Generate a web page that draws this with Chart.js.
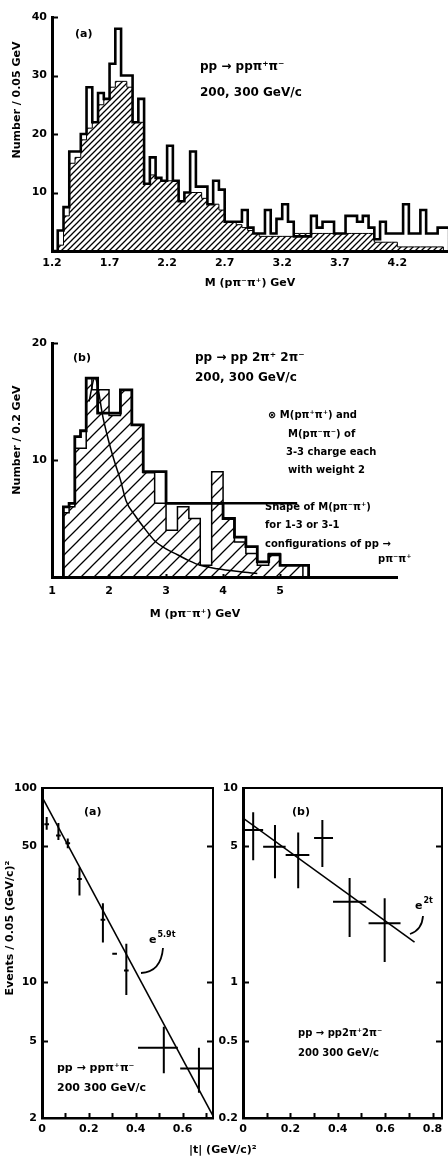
<!DOCTYPE html>
<html>
<head>
<meta charset="utf-8">
<script src="https://cdn.jsdelivr.net/npm/chart.js@4.4.0/dist/chart.umd.min.js"></script>
<style>
  body { margin: 0; background: #fff; }
  #page { position: relative; width: 448px; height: 1160px; overflow: hidden; background: #fff; }
  #page canvas { position: absolute; }
  .lbl { position: absolute; font: bold 11px 'DejaVu Sans', sans-serif; color: #000; white-space: nowrap; }
</style>
</head>
<body>
<div id="page">
  <canvas id="massA" width="448" height="300" style="left:0px;top:0px"></canvas>
  <canvas id="massB" width="448" height="310" style="left:0px;top:320px"></canvas>
  <canvas id="tLeft" width="224" height="420" style="left:0px;top:740px"></canvas>
  <canvas id="tRight" width="242" height="420" style="left:206px;top:740px"></canvas>
  <div class="lbl" style="left:189px;top:1143px">|t| (GeV/c)²</div>
</div>
<script>
// (a) pp -> pp pi+ pi-, M(p pi- pi+) in 0.05 GeV bins from 1.20 GeV
const binStartA = 1.2;
const binWidthA = 0.05;
const allCountsA = [0, 3.5, 7.5, 17, 17, 20, 28, 22, 27, 26, 32, 38, 30, 30, 22, 26,
  11.5, 16, 12.5, 12, 18, 12, 8.5, 10, 17, 11, 11, 8, 12, 10.5,
  5, 5, 5, 7, 4, 3, 3, 7, 3, 5.5, 8, 5, 2.5, 2.5, 2.5, 6, 4, 5, 5, 3,
  3, 6, 6, 5, 6, 4, 2, 5, 3, 3, 3, 8, 3, 3, 7, 3, 3, 4, 4];
const hatchedCountsA = [0, 1, 6, 15, 16, 19, 21, 22, 25, 26, 28, 29, 29, 28, 22, 22,
  11.5, 13, 12.5, 12, 12, 12, 8.5, 10, 10, 10, 9, 8, 8, 7,
  5, 5, 4.5, 4, 3.5, 3, 2.5, 2.5, 2.5, 2.5, 2.5, 2.5, 3, 3, 3, 3, 3, 3, 3, 3,
  3, 3, 3, 3, 3, 3, 1.5, 1.5, 1.5, 1.5, 0.7, 0.7, 0.7, 0.7, 0.7, 0.7, 0.7, 0.7, 0];
const massTicksA = [1.2, 1.7, 2.2, 2.7, 3.2, 3.7, 4.2];
const countTicksA = [10, 20, 30, 40];

// (b) pp -> pp 2pi+ 2pi-, 0.1 GeV bins from 1.2 GeV
const binStartB = 1.2;
const binWidthB = 0.1;
const mixedCountsB = [6, 6.3, 12, 12.5, 17, 17, 14, 14, 14, 14, 16, 16, 13, 13,
  9, 9, 9, 9, 6.3, 6.3, 6.3, 6.3, 6.3, 6.3, 6.3, 6.3, 6.3, 6.3,
  5, 5, 3.4, 3.4, 2.6, 2.6, 1.3, 1.3, 1.9, 1.9, 1, 1, 1, 1, 1];
const sameChargeB = [5.5, 6, 11, 11, 17, 16, 16, 16, 13.8, 13.8, 16, 16, 13, 13,
  8.9, 8.9, 6.3, 6.3, 4, 4, 6, 6, 5, 5, 1, 1, 9, 9,
  5, 5, 3, 3, 2, 2, 1, 1, 2, 2, 1, 1, 1, 1, 0];
const shapeMassB = [1.65, 1.75, 1.9, 2.0, 2.1, 2.2, 2.3, 2.45, 2.6, 2.8, 3.0, 3.2, 3.4, 3.6, 3.9, 4.3, 4.6];
const shapeCountB = [15, 17, 13.5, 11.5, 9.8, 8.3, 6.5, 5.3, 4.3, 3.1, 2.4, 1.9, 1.4, 1.0, 0.7, 0.45, 0.3];
const massTicksB = [1, 2, 3, 4, 5];
const countTicksB = [10, 20];

// |t| distributions, events / 0.05 (GeV/c)^2
const tLeft = [0.02, 0.07, 0.11, 0.16, 0.26, 0.31, 0.36, 0.52, 0.67];
const evLeft = [65, 57, 52, 34, 21, 14, 11.5, 4.6, 3.6];
const evLowLeft = [61, 54, 49, 28, 16, 14, 8.6, 3.4, 2.7];
const evHighLeft = [71, 66, 55, 39, 25.5, 14, 15.8, 5.9, 4.6];
const tLowLeft = [0.01, 0.06, 0.1, 0.15, 0.25, 0.3, 0.35, 0.41, 0.59];
const tHighLeft = [0.03, 0.08, 0.12, 0.17, 0.27, 0.32, 0.37, 0.58, 0.73];
const fitTLeft = [0, 0.73];
const fitEvLeft = [90, 2.05];

const tRight = [0.043, 0.135, 0.233, 0.335, 0.45, 0.598];
const evRight = [6.07, 4.98, 4.52, 5.52, 2.6, 2.01];
const evLowRight = [4.25, 3.43, 3.05, 3.92, 1.71, 1.27];
const evHighRight = [7.5, 6.45, 5.9, 6.84, 3.44, 2.71];
const tLowRight = [0, 0.085, 0.18, 0.3, 0.38, 0.53];
const tHighRight = [0.085, 0.18, 0.28, 0.38, 0.52, 0.665];
const fitTRight = [0, 0.724];
const fitEvRight = [7.0, 1.61];

const tTicksLeft = [0, 0.2, 0.4, 0.6];
const tTicksRight = [0, 0.2, 0.4, 0.6, 0.8];
const tMinorLeft = [0.1, 0.2, 0.3, 0.4, 0.5, 0.6, 0.7];
const tMinorRight = [0.1, 0.2, 0.3, 0.4, 0.5, 0.6, 0.7, 0.8];
const evTicksLeft = [2, 5, 10, 50, 100];
const evTicksRight = [0.2, 0.5, 1, 5, 10];

Chart.defaults.font.family = "'DejaVu Sans', sans-serif";
Chart.defaults.font.size = 11;
Chart.defaults.font.weight = 'bold';
Chart.defaults.color = '#000';

const FONT = "'DejaVu Sans', sans-serif";

// step outline: rise at the first edge, flat over each bin, drop after the last
function steps(start, width, counts) {
  const pts = [{ x: start, y: 0 }];
  counts.forEach((c, i) => pts.push({ x: start + i * width, y: c }));
  pts.push({ x: start + counts.length * width, y: 0 });
  return pts;
}

function hatch(gap, lw) {
  const c = document.createElement('canvas');
  c.width = gap; c.height = gap;
  const g = c.getContext('2d');
  g.strokeStyle = '#000';
  g.lineWidth = lw;
  g.beginPath();
  g.moveTo(-1, gap + 1); g.lineTo(gap + 1, -1);
  g.moveTo(-gap / 2 - 1, gap / 2 + 1); g.lineTo(gap / 2 + 1, -gap / 2 - 1);
  g.moveTo(gap / 2 - 1, gap * 1.5 + 1); g.lineTo(gap * 1.5 + 1, gap / 2 - 1);
  g.stroke();
  return g.createPattern(c, 'repeat');
}

function pairs(xs, ys) {
  return xs.map((x, i) => ({ x: x, y: ys[i] }));
}

// free text, curved pointers and leader lines drawn on top of the plot
function notes(items, extra) {
  return {
    id: 'notes',
    afterDraw(chart) {
      const ctx = chart.ctx;
      items.forEach(n => {
        ctx.save();
        ctx.translate(n.x, n.y);
        if (n.rot) ctx.rotate(n.rot);
        const size = n.size || 11;
        ctx.font = 'bold ' + size + 'px ' + FONT;
        ctx.fillStyle = '#000';
        ctx.textAlign = n.align || 'left';
        ctx.textBaseline = 'middle';
        ctx.fillText(n.text, 0, 0);
        if (n.sup) {
          const w = ctx.measureText(n.text).width;
          ctx.font = 'bold ' + Math.round(size * 0.72) + 'px ' + FONT;
          ctx.textAlign = 'left';
          ctx.fillText(n.sup, w + 1, -size * 0.45);
        }
        ctx.restore();
      });
      if (extra) extra(chart);
    }
  };
}

// axis frame and inward tick marks
function frame(opt) {
  return {
    id: 'frame',
    afterDraw(chart) {
      const { ctx, chartArea: a, scales: { x, y } } = chart;
      ctx.save();
      ctx.strokeStyle = '#000';
      if (opt.box) {
        ctx.lineWidth = 2;
        ctx.beginPath();
        ctx.moveTo(a.left, a.top); ctx.lineTo(a.right, a.top); ctx.lineTo(a.right, a.bottom);
        ctx.stroke();
      }
      ctx.lineWidth = 2;
      ctx.beginPath();
      (opt.y || []).forEach(v => {
        const py = Math.round(y.getPixelForValue(v)) + 0.5;
        ctx.moveTo(a.left, py); ctx.lineTo(a.left + opt.len, py);
        if (opt.box) { ctx.moveTo(a.right, py); ctx.lineTo(a.right - opt.len, py); }
      });
      (opt.x || []).forEach(v => {
        const px = Math.round(x.getPixelForValue(v)) + 0.5;
        ctx.moveTo(px, a.bottom); ctx.lineTo(px, a.bottom - (opt.xLen || opt.len));
      });
      ctx.stroke();
      ctx.restore();
    }
  };
}

// crossed error bars for the first dataset
function errorBars(lo, hi, tLo, tHi) {
  return {
    id: 'errorBars',
    afterDatasetsDraw(chart) {
      const { ctx, scales: { x, y } } = chart;
      const meta = chart.getDatasetMeta(0);
      ctx.save();
      ctx.strokeStyle = '#000';
      ctx.lineWidth = 2;
      ctx.beginPath();
      meta.data.forEach((pt, i) => {
        ctx.moveTo(pt.x, y.getPixelForValue(lo[i]));
        ctx.lineTo(pt.x, y.getPixelForValue(hi[i]));
        ctx.moveTo(x.getPixelForValue(tLo[i]), pt.y);
        ctx.lineTo(x.getPixelForValue(tHi[i]), pt.y);
      });
      ctx.stroke();
      ctx.restore();
    }
  };
}

function fixedTicks(values) {
  return scale => { scale.ticks = values.map(v => ({ value: v })); };
}

const noGrid = { display: false, drawTicks: false };

const base = {
  responsive: false,
  animation: false,
  events: [],
  plugins: { legend: { display: false }, tooltip: { enabled: false } },
  elements: { point: { radius: 0 } }
};

// ---- (a) ----
new Chart(document.getElementById('massA'), {
  type: 'line',
  data: {
    datasets: [
      { data: steps(binStartA, binWidthA, hatchedCountsA), stepped: true, borderColor: '#000',
        borderWidth: 1, fill: 'origin', backgroundColor: hatch(6, 1.3) },
      { data: steps(binStartA, binWidthA, allCountsA), stepped: true, borderColor: '#000',
        borderWidth: 2.6, fill: false }
    ]
  },
  options: Object.assign({}, base, {
    layout: { padding: { top: 17, right: 0, left: 0, bottom: 0 } },
    scales: {
      x: {
        type: 'linear', min: 1.2, max: 4.64,
        afterFit: s => { s.height = 49; },
        afterBuildTicks: fixedTicks(massTicksA),
        grid: noGrid,
        border: { width: 3, color: '#000' },
        ticks: { padding: 6, maxRotation: 0, callback: v => v.toFixed(1) }
      },
      y: {
        min: 0, max: 40,
        afterFit: s => { s.width = 52; },
        afterBuildTicks: fixedTicks(countTicksA),
        grid: noGrid,
        border: { width: 3, color: '#000' },
        ticks: { padding: 5 }
      }
    }
  }),
  plugins: [
    frame({ y: countTicksA, len: 6 }),
    notes([
      { text: '(a)', x: 75, y: 34 },
      { text: 'pp → ppπ⁺π⁻', x: 200, y: 67, size: 12 },
      { text: '200, 300 GeV/c', x: 200, y: 93, size: 12 },
      { text: 'M (pπ⁻π⁺) GeV', x: 250, y: 283, align: 'center' },
      { text: 'Number / 0.05 GeV', x: 17, y: 100, align: 'center', rot: -Math.PI / 2 }
    ])
  ]
});

// ---- (b) ----
new Chart(document.getElementById('massB'), {
  type: 'line',
  data: {
    datasets: [
      { data: steps(binStartB, binWidthB, sameChargeB), stepped: true, borderColor: '#000',
        borderWidth: 1.5, fill: 'origin', backgroundColor: hatch(13, 1.3) },
      { data: steps(binStartB, binWidthB, mixedCountsB), stepped: true, borderColor: '#000',
        borderWidth: 2.8, fill: false },
      { data: pairs(shapeMassB, shapeCountB), borderColor: '#000', borderWidth: 1.5,
        cubicInterpolationMode: 'monotone', fill: false }
    ]
  },
  options: Object.assign({}, base, {
    layout: { padding: { top: 23, right: 51, left: 0, bottom: 0 } },
    scales: {
      x: {
        type: 'linear', min: 1, max: 7.05,
        afterFit: s => { s.height = 53; },
        afterBuildTicks: fixedTicks(massTicksB),
        grid: noGrid,
        border: { width: 3, color: '#000' },
        ticks: { padding: 8, maxRotation: 0 }
      },
      y: {
        min: 0, max: 20,
        afterFit: s => { s.width = 52; },
        afterBuildTicks: fixedTicks(countTicksB),
        grid: noGrid,
        border: { width: 3, color: '#000' },
        ticks: { padding: 5 }
      }
    }
  }),
  plugins: [
    frame({ y: countTicksB, x: [2, 3, 4, 5], len: 6, xLen: 3 }),
    notes([
      { text: '(b)', x: 73, y: 38 },
      { text: 'pp → pp 2π⁺ 2π⁻', x: 195, y: 38, size: 12 },
      { text: '200, 300 GeV/c', x: 195, y: 58, size: 12 },
      { text: '⊗ M(pπ⁺π⁺) and', x: 268, y: 95, size: 10 },
      { text: 'M(pπ⁻π⁻) of', x: 288, y: 114, size: 10 },
      { text: '3-3 charge each', x: 286, y: 132, size: 10 },
      { text: 'with weight 2', x: 288, y: 150, size: 10 },
      { text: 'Shape of M(pπ⁻π⁺)', x: 265, y: 187, size: 10 },
      { text: 'for 1-3 or 3-1', x: 265, y: 205, size: 10 },
      { text: 'configurations of pp →', x: 265, y: 224, size: 10 },
      { text: 'pπ⁻π⁺', x: 378, y: 239, size: 10 },
      { text: 'M (pπ⁻π⁺) GeV', x: 195, y: 294, align: 'center' },
      { text: 'Number / 0.2 GeV', x: 17, y: 120, align: 'center', rot: -Math.PI / 2 }
    ], chart => {
      // leader from the histogram edge to the curve description
      const { ctx, scales: { x, y } } = chart;
      ctx.save();
      ctx.strokeStyle = '#000';
      ctx.lineWidth = 2.5;
      ctx.beginPath();
      ctx.moveTo(x.getPixelForValue(3.9), y.getPixelForValue(6.3));
      ctx.lineTo(x.getPixelForValue(5.3), y.getPixelForValue(6.3));
      ctx.stroke();
      ctx.restore();
    })
  ]
});

// ---- |t| panels ----
function pointer(x0, y0, cx, cy, x1, y1) {
  return chart => {
    const ctx = chart.ctx;
    ctx.save();
    ctx.strokeStyle = '#000';
    ctx.lineWidth = 1.8;
    ctx.beginPath();
    ctx.moveTo(x0, y0);
    ctx.quadraticCurveTo(cx, cy, x1, y1);
    ctx.stroke();
    ctx.restore();
  };
}

function tPanel(id, cfg) {
  new Chart(document.getElementById(id), {
    type: 'scatter',
    data: {
      datasets: [
        { data: pairs(cfg.t, cfg.ev), pointRadius: 0 },
        { data: pairs(cfg.fitT, cfg.fitEv), showLine: true, borderColor: '#000',
          borderWidth: 1.6, pointRadius: 0 }
      ]
    },
    options: Object.assign({}, base, {
      layout: { padding: { top: 48, right: cfg.padRight, left: 0, bottom: 0 } },
      scales: {
        x: {
          type: 'linear', min: 0, max: cfg.tMax,
          afterFit: s => { s.height = 42; },
          afterBuildTicks: fixedTicks(cfg.tTicks),
          grid: noGrid,
          border: { width: 2.5, color: '#000' },
          ticks: { padding: 5, maxRotation: 0, callback: v => v === 0 ? '0' : v.toFixed(1) }
        },
        y: {
          type: 'logarithmic', min: cfg.evTicks[0], max: cfg.evTicks[cfg.evTicks.length - 1],
          afterFit: s => { s.width = cfg.axisWidth; },
          afterBuildTicks: fixedTicks(cfg.evTicks),
          grid: noGrid,
          border: { width: 3, color: '#000' },
          ticks: { padding: 5, callback: v => String(v) }
        }
      }
    }),
    plugins: [
      errorBars(cfg.lo, cfg.hi, cfg.tLo, cfg.tHi),
      frame({ box: true, y: cfg.evTicks.slice(1, -1), x: cfg.minor, len: 6, xLen: 5 }),
      notes(cfg.notes, cfg.extra)
    ]
  });
}

tPanel('tLeft', {
  t: tLeft, ev: evLeft, lo: evLowLeft, hi: evHighLeft, tLo: tLowLeft, tHi: tHighLeft,
  fitT: fitTLeft, fitEv: fitEvLeft, tMax: 0.73, tTicks: tTicksLeft, minor: tMinorLeft,
  evTicks: evTicksLeft, axisWidth: 42, padRight: 11,
  notes: [
    { text: '(a)', x: 84, y: 72 },
    { text: 'e', sup: '5.9t', x: 149, y: 200, size: 11 },
    { text: 'pp → ppπ⁺π⁻', x: 57, y: 328 },
    { text: '200 300 GeV/c', x: 57, y: 348 },
    { text: 'Events / 0.05 (GeV/c)²', x: 10, y: 188, align: 'center', rot: -Math.PI / 2 }
  ],
  extra: pointer(163, 208, 161, 232, 141, 233)
});

tPanel('tRight', {
  t: tRight, ev: evRight, lo: evLowRight, hi: evHighRight, tLo: tLowRight, tHi: tHighRight,
  fitT: fitTRight, fitEv: fitEvRight, tMax: 0.84, tTicks: tTicksRight, minor: tMinorRight,
  evTicks: evTicksRight, axisWidth: 37, padRight: 6,
  notes: [
    { text: '(b)', x: 86, y: 72 },
    { text: 'e', sup: '2t', x: 209, y: 166, size: 11 },
    { text: 'pp → pp2π⁺2π⁻', x: 92, y: 293, size: 10 },
    { text: '200 300 GeV/c', x: 92, y: 313, size: 10 }
  ],
  extra: pointer(217, 176, 216, 190, 204, 194)
});
</script>
</body>
</html>
